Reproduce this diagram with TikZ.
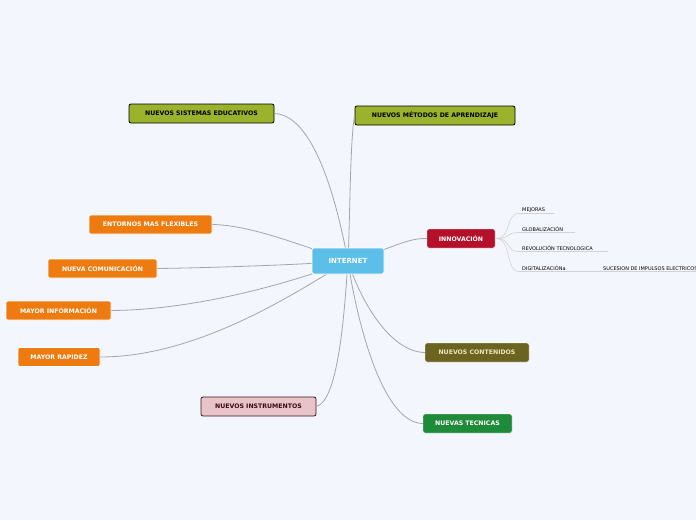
\documentclass[tikz,border=0pt]{standalone}
\usepackage{fontspec}
\setmainfont{DejaVu Sans}
\begin{document}
\begin{tikzpicture}[x=1pt,y=-1pt,
  base/.style={rounded corners=2pt,minimum height=19pt,inner sep=0pt,font=\bfseries\fontsize{6.2}{7}\selectfont},
  olive/.style={base,fill=olivec,draw=black,line width=0.8pt,text=black},
  orange/.style={base,fill=orangec,draw=white,line width=0.6pt,text=white},
  con/.style={draw=gray!70,line width=0.8pt},
  sub/.style={font=\fontsize{5}{6}\selectfont,anchor=south west,inner sep=1pt}]
\definecolor{olivec}{HTML}{9AB22C}
\definecolor{orangec}{HTML}{EE7B0F}
\definecolor{bgc}{HTML}{F4F6FD}
\fill[bgc] (0,0) rectangle (696,520);
\useasboundingbox (0,0) rectangle (696,520);
\coordinate (c) at (348,261);
\node[olive,minimum width=145pt] (nse) at (201.5,113.5) {NUEVOS SISTEMAS EDUCATIVOS};
\node[olive,minimum width=160pt] (nma) at (435,115.5) {NUEVOS MÉTODOS DE APRENDIZAJE};
\node[orange,minimum width=123pt] (ent) at (150.5,224.5) {ENTORNOS MAS FLEXIBLES};
\node[orange,minimum width=109pt] (nco) at (102.5,268.5) {NUEVA COMUNICACIÓN};
\node[orange,minimum width=105pt] (min) at (58.5,310.5) {MAYOR INFORMACIÓN};
\node[orange,minimum width=82pt] (mra) at (59,357) {MAYOR RAPIDEZ};
\node[base,fill={rgb,255:red,232;green,196;blue,200},draw={rgb,255:red,60;green,20;blue,30},line width=0.8pt,text={rgb,255:red,60;green,10;blue,20},minimum width=115pt] (nin) at (258.5,406.5) {NUEVOS INSTRUMENTOS};
\node[base,fill={rgb,255:red,181;green,16;blue,42},draw=white,text=white,minimum width=68pt] (inn) at (461,238.5) {INNOVACIÓN};
\node[base,fill={rgb,255:red,107;green,100;blue,32},draw=white,text={rgb,255:red,240;green,230;blue,190},minimum width=104pt] (nct) at (477,352.5) {NUEVOS CONTENIDOS};
\node[base,fill={rgb,255:red,30;green,138;blue,58},draw=white,text=white,minimum width=89pt] (nte) at (467.5,423.5) {NUEVAS TECNICAS};
% connectors
\draw[con] (c) .. controls (342,230) and (320,115) .. (nse.east);
\draw[con] (c) .. controls (350,220) and (350,140) .. (nma.west);
\draw[con] (c) .. controls (300,245) and (250,225) .. (ent.east);
\draw[con] (c) .. controls (300,265) and (200,268) .. (nco.east);
\draw[con] (c) .. controls (300,280) and (200,310) .. (min.east);
\draw[con] (c) .. controls (300,290) and (200,357) .. (mra.east);
\draw[con] (c) .. controls (345,300) and (340,400) .. (nin.east);
\draw[con] (c) .. controls (390,250) and (405,238) .. (inn.west);
\draw[con] (c) .. controls (360,300) and (390,352) .. (nct.west);
\draw[con] (c) .. controls (355,310) and (380,423) .. (nte.west);
\node[base,fill={rgb,255:red,91;green,191;blue,234},draw=white,line width=0.8pt,text=white,minimum width=72pt,minimum height=26pt,font=\bfseries\fontsize{7}{8}\selectfont] (int) at (c) {INTERNET};
% subtopics
\tikzset{sl/.style={draw=gray!35,line width=0.6pt}}
\coordinate (io) at (496,238.5);
\node[sub] (s1) at (521,213.5) {MEJORAS};
\node[sub] (s2) at (521,232.5) {GLOBALIZACIÓN};
\node[sub] (s3) at (521,251.5) {REVOLUCIÓN TECNOLOGICA};
\node[sub] (s4) at (521,271.5) {DIGITALIZACIÓNa};
\node[sub] (s5) at (602,271.5) {SUCESION DE IMPULSOS ELECTRICOS};
\foreach \y/\e in {213.5/554,232.5/575,251.5/608,271.5/600}{
  \draw[sl] (io) .. controls (512,238.5) and (505,\y) .. (519,\y) -- (\e,\y);
}
\draw[sl] (600,271.5) -- (696,271.5);
\end{tikzpicture}
\end{document}
